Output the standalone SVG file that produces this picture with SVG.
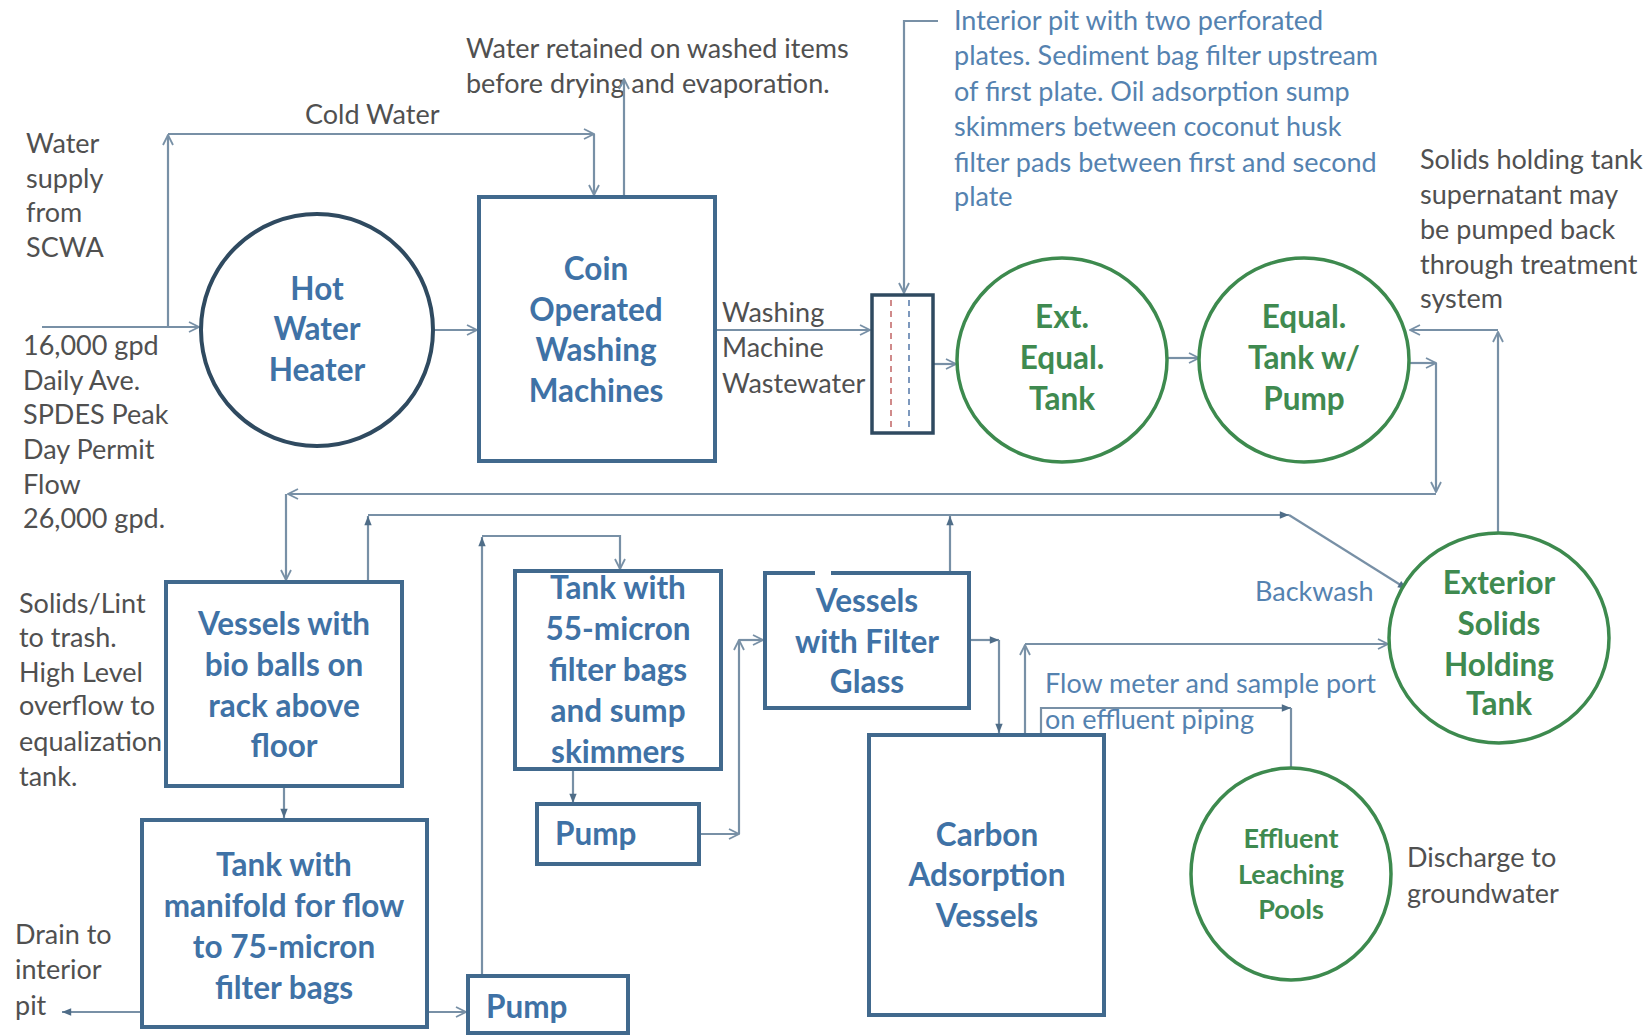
<svg xmlns="http://www.w3.org/2000/svg" width="1649" height="1036" viewBox="0 0 1649 1036">
<defs>
<marker id="open" viewBox="0 0 12 12" refX="11" refY="6" markerWidth="12" markerHeight="12" markerUnits="userSpaceOnUse" orient="auto">
<path d="M1,1 L11,6 L1,11" fill="none" stroke="#7890a6" stroke-width="1.8"/>
</marker>
<marker id="solid" viewBox="0 0 12 12" refX="11" refY="6" markerWidth="11" markerHeight="11" markerUnits="userSpaceOnUse" orient="auto">
<path d="M1,2 L11,6 L1,10 Z" fill="#4f6d88" stroke="none"/>
</marker>
<style>
.t{font-family:Lato,"Liberation Sans",sans-serif;font-size:27px;fill:#505050}
.cb{font-family:Lato,"Liberation Sans",sans-serif;font-size:27px;fill:#5482b0}
.bl{font-family:Lato,"Liberation Sans",sans-serif;font-weight:bold;font-size:31.5px;fill:#3f72a6;text-anchor:middle}
.gr{font-family:Lato,"Liberation Sans",sans-serif;font-weight:bold;font-size:31.5px;fill:#3f8a50;text-anchor:middle}
.box{fill:#ffffff;stroke:#41698d;stroke-width:4}
.gc{fill:#ffffff;stroke:#3d8a4e;stroke-width:3.5}
.c{fill:none;stroke:#7890a6;stroke-width:2.2}
.o{marker-end:url(#open)}
.s{marker-end:url(#solid)}
</style>
</defs>
<rect width="1649" height="1036" fill="#ffffff"/>

<g id="labels">
<text class="t" x="26" y="153">Water</text>
<text class="t" x="26" y="188">supply</text>
<text class="t" x="26" y="222">from</text>
<text class="t" x="26" y="257">SCWA</text>
<text class="t" x="23" y="355">16,000 gpd</text>
<text class="t" x="23" y="390">Daily Ave.</text>
<text class="t" x="23" y="424">SPDES Peak</text>
<text class="t" x="23" y="459">Day Permit</text>
<text class="t" x="23" y="494">Flow</text>
<text class="t" x="23" y="528">26,000 gpd.</text>
<text class="t" x="19" y="613">Solids/Lint</text>
<text class="t" x="19" y="647">to trash.</text>
<text class="t" x="19" y="682">High Level</text>
<text class="t" x="19" y="715">overflow to</text>
<text class="t" x="19" y="751">equalization</text>
<text class="t" x="19" y="786">tank.</text>
<text class="t" x="15" y="944">Drain to</text>
<text class="t" x="15" y="979">interior</text>
<text class="t" x="15" y="1015">pit</text>
<text class="t" x="305" y="124">Cold Water</text>
<text class="t" x="466" y="58">Water retained on washed items</text>
<text class="t" x="466" y="93">before drying and evaporation.</text>
<text class="t" x="722" y="322">Washing</text>
<text class="t" x="722" y="357">Machine</text>
<text class="t" x="722" y="393">Wastewater</text>
<text class="cb" x="954" y="30">Interior pit with two perforated</text>
<text class="cb" x="954" y="65">plates. Sediment bag filter upstream</text>
<text class="cb" x="954" y="101">of first plate. Oil adsorption sump</text>
<text class="cb" x="954" y="136">skimmers between coconut husk</text>
<text class="cb" x="954" y="172">filter pads between first and second</text>
<text class="cb" x="954" y="206">plate</text>
<text class="t" x="1420" y="169">Solids holding tank</text>
<text class="t" x="1420" y="204">supernatant may</text>
<text class="t" x="1420" y="239">be pumped back</text>
<text class="t" x="1420" y="274">through treatment</text>
<text class="t" x="1420" y="308">system</text>
<text class="cb" x="1255" y="601">Backwash</text>
<text class="cb" x="1045" y="693">Flow meter and sample port</text>
<text class="cb" x="1045" y="729">on effluent piping</text>
<text class="t" x="1407" y="867">Discharge to</text>
<text class="t" x="1407" y="903">groundwater</text>
</g>

<g id="connectors">
<path class="c o" d="M42,327 H199"/>
<path class="c o" d="M168,327 V135"/>
<path class="c o" d="M168,134 H594"/>
<path class="c o" d="M594,134 V195"/>
<path class="c o" d="M624,197 V79"/>
<path class="c o" d="M433,330 H477"/>
<path class="c o" d="M715,330 H870"/>
<path class="c o" d="M938,21 H904 V293"/>
<path class="c o" d="M933,364 H956"/>
<path class="c o" d="M1167,358 H1199"/>
<path class="c o" d="M1409,363 H1436"/>
<path class="c o" d="M1436,363 V492"/>
<path class="c o" d="M1436,494 H288"/>
<path class="c o" d="M286,494 V580"/>
<path class="c o" d="M1498,533 V332"/>
<path class="c o" d="M1498,330 H1410"/>
<path class="c s" d="M368,582 V516"/>
<path class="c s" d="M368,515 H1289"/>
<path class="c s" d="M1289,515 L1407,589"/>
<path class="c s" d="M950,573 V516"/>
<path class="c s" d="M482,976 V537"/>
<path class="c o" d="M482,536 H620 V569"/>
<path class="c s" d="M573,769 V803"/>
<path class="c o" d="M699,834 H739"/>
<path class="c o" d="M739,834 V640"/>
<path class="c o" d="M739,640 H763"/>
<path class="c s" d="M969,640 H999"/>
<path class="c s" d="M999,640 V733"/>
<path class="c o" d="M1025,735 V645"/>
<path class="c o" d="M1025,644 H1388"/>
<path class="c s" d="M1041,735 V708 H1291"/>
<path class="c" d="M1291,708 V768"/>
<path class="c s" d="M284,786 V818"/>
<path class="c s" d="M142,1012 H62"/>
<path class="c o" d="M427,1012 H466"/>
</g>

<g id="hot-water-heater">
<circle cx="317" cy="330" r="116" fill="#ffffff" stroke="#2f4a60" stroke-width="4"/>
<text class="bl" x="317" y="300">Hot</text>
<text class="bl" x="317" y="340">Water</text>
<text class="bl" x="317" y="381">Heater</text>
</g>

<g id="coin-washers">
<rect class="box" x="479" y="197" width="236" height="264"/>
<text class="bl" x="596" y="280">Coin</text>
<text class="bl" x="596" y="321">Operated</text>
<text class="bl" x="596" y="361">Washing</text>
<text class="bl" x="596" y="402">Machines</text>
</g>

<g id="interior-pit">
<rect x="872" y="295" width="61" height="138" fill="#ffffff" stroke="#2f4a60" stroke-width="3.5"/>
<line x1="891" y1="300" x2="891" y2="428" stroke="#d08a8a" stroke-width="2" stroke-dasharray="6,5"/>
<line x1="909" y1="300" x2="909" y2="428" stroke="#7d98bd" stroke-width="2" stroke-dasharray="6,5"/>
</g>

<g id="ext-equal-tank">
<ellipse class="gc" cx="1062" cy="360" rx="105" ry="102"/>
<text class="gr" x="1062" y="328">Ext.</text>
<text class="gr" x="1062" y="369">Equal.</text>
<text class="gr" x="1062" y="410">Tank</text>
</g>

<g id="equal-tank-pump">
<ellipse class="gc" cx="1304" cy="360" rx="105" ry="102"/>
<text class="gr" x="1304" y="328">Equal.</text>
<text class="gr" x="1304" y="369">Tank w/</text>
<text class="gr" x="1304" y="410">Pump</text>
</g>

<g id="exterior-solids-tank">
<ellipse class="gc" cx="1499" cy="638" rx="110" ry="105"/>
<text class="gr" x="1499" y="594">Exterior</text>
<text class="gr" x="1499" y="635">Solids</text>
<text class="gr" x="1499" y="676">Holding</text>
<text class="gr" x="1499" y="715">Tank</text>
</g>

<g id="effluent-pools">
<ellipse class="gc" cx="1291" cy="874" rx="100" ry="106"/>
<text class="gr" x="1291" y="848" style="font-size:27px">Effluent</text>
<text class="gr" x="1291" y="884" style="font-size:27px">Leaching</text>
<text class="gr" x="1291" y="919" style="font-size:27px">Pools</text>
</g>

<g id="bio-balls">
<rect class="box" x="166" y="582" width="236" height="204"/>
<text class="bl" x="284" y="635">Vessels with</text>
<text class="bl" x="284" y="676">bio balls on</text>
<text class="bl" x="284" y="717">rack above</text>
<text class="bl" x="284" y="757">floor</text>
</g>

<g id="manifold-tank">
<rect class="box" x="142" y="820" width="285" height="207"/>
<text class="bl" x="284" y="876">Tank with</text>
<text class="bl" x="284" y="917">manifold for flow</text>
<text class="bl" x="284" y="958">to 75-micron</text>
<text class="bl" x="284" y="999">filter bags</text>
</g>

<g id="pump-lower">
<rect class="box" x="468" y="976" width="160" height="57"/>
<text class="bl" x="486" y="1018" style="text-anchor:start">Pump</text>
</g>

<g id="tank-55">
<rect class="box" x="515" y="571" width="206" height="198"/>
<text class="bl" x="618" y="599">Tank with</text>
<text class="bl" x="618" y="640">55-micron</text>
<text class="bl" x="618" y="681">filter bags</text>
<text class="bl" x="618" y="722">and sump</text>
<text class="bl" x="618" y="763">skimmers</text>
</g>

<g id="pump-middle">
<rect class="box" x="537" y="804" width="162" height="60"/>
<text class="bl" x="555" y="845" style="text-anchor:start">Pump</text>
</g>

<g id="filter-glass">
<path d="M815,573 H765 V708 H969 V573 H831" fill="#ffffff" stroke="#41698d" stroke-width="4"/>
<text class="bl" x="867" y="612">Vessels</text>
<text class="bl" x="867" y="653">with Filter</text>
<text class="bl" x="867" y="693">Glass</text>
</g>

<g id="carbon">
<rect class="box" x="869" y="735" width="235" height="280"/>
<text class="bl" x="987" y="846">Carbon</text>
<text class="bl" x="987" y="886">Adsorption</text>
<text class="bl" x="987" y="927">Vessels</text>
</g>
</svg>
